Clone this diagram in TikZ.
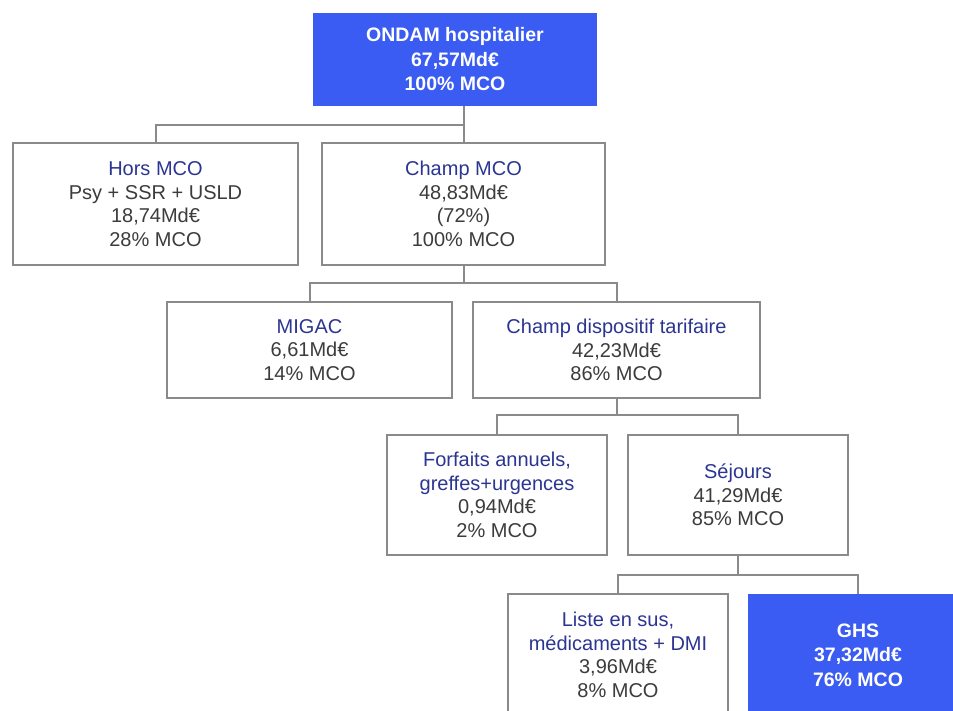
\documentclass[tikz,border=0pt]{standalone}
\usepackage{fontspec}
\setmainfont{Liberation Sans}
\usepackage{tikz}
\usetikzlibrary{positioning}

\definecolor{ondamblue}{HTML}{3B5CF2}
\definecolor{headblue}{HTML}{2B3592}
\definecolor{bodygray}{HTML}{3C3C3C}
\definecolor{framegray}{HTML}{8A8A8A}
\newcommand{\hd}[1]{\textcolor{headblue}{#1}}

\begin{document}
\begin{tikzpicture}[x=1pt,y=-1pt]
		\tikzstyle{box}=[draw=framegray, line width=2.8pt, fill=white, align=center, text=bodygray, inner sep=0pt, font=\fontsize{20}{23.5}\selectfont];
		\tikzstyle{bluebox}=[fill=ondamblue, align=center, text=white, inner sep=0pt, font=\fontsize{19.5}{24.5}\selectfont\bfseries];
		\tikzstyle{link}=[draw=framegray, line width=2pt];

		\useasboundingbox (0,0) rectangle (953,711);
		\clip (0,0) rectangle (953,711);

		\node[bluebox, minimum width=284pt, minimum height=93pt] (ondam) at (455,59.5) {ONDAM hospitalier\\67,57Md€\\100\% MCO};

		\node[box, minimum width=285pt, minimum height=122pt] (hors) at (155.5,204) {\hd{Hors MCO}\\Psy + SSR + USLD\\18,74Md€\\28\% MCO};
		\node[box, minimum width=283pt, minimum height=122pt] (champmco) at (463.5,204) {\hd{Champ MCO}\\48,83Md€\\(72\%)\\100\% MCO};

		\node[box, minimum width=285pt, minimum height=96pt] (migac) at (309.5,350) {\hd{MIGAC}\\6,61Md€\\14\% MCO};
		\node[box, minimum width=287pt, minimum height=96pt] (disp) at (616.5,350) {\hd{Champ dispositif tarifaire}\\42,23Md€\\86\% MCO};

		\node[box, minimum width=220pt, minimum height=120pt] (forfaits) at (497,495) {\hd{Forfaits annuels,}\\\hd{greffes+urgences}\\0,94Md€\\2\% MCO};
		\node[box, minimum width=220pt, minimum height=120pt] (sejours) at (738,495) {\hd{Séjours}\\41,29Md€\\85\% MCO};

		\node[box, minimum width=220pt, minimum height=122pt] (liste) at (618,655) {\hd{Liste en sus,}\\\hd{médicaments + DMI}\\3,96Md€\\8\% MCO};
		\node[bluebox, minimum width=220pt, minimum height=122pt] (ghs) at (858,655) {GHS\\37,32Md€\\76\% MCO};

		\coordinate (fork1) at (463.5,125);
		\coordinate (fork2) at (463.5,283);
		\coordinate (fork3) at (616.5,415);
		\coordinate (fork4) at (738,575);

		\draw[link] (ondam.south -| fork1) -- (champmco.north);
		\draw[link] (hors.north) |- (fork1);
		\draw[link] (champmco.south) -- (fork2);
		\draw[link] (migac.north) |- (fork2) -| (disp.north);
		\draw[link] (disp.south) -- (fork3);
		\draw[link] (forfaits.north) |- (fork3) -| (sejours.north);
		\draw[link] (sejours.south) -- (fork4);
		\draw[link] (liste.north) |- (fork4) -| (ghs.north);
	\end{tikzpicture}
\end{document}
